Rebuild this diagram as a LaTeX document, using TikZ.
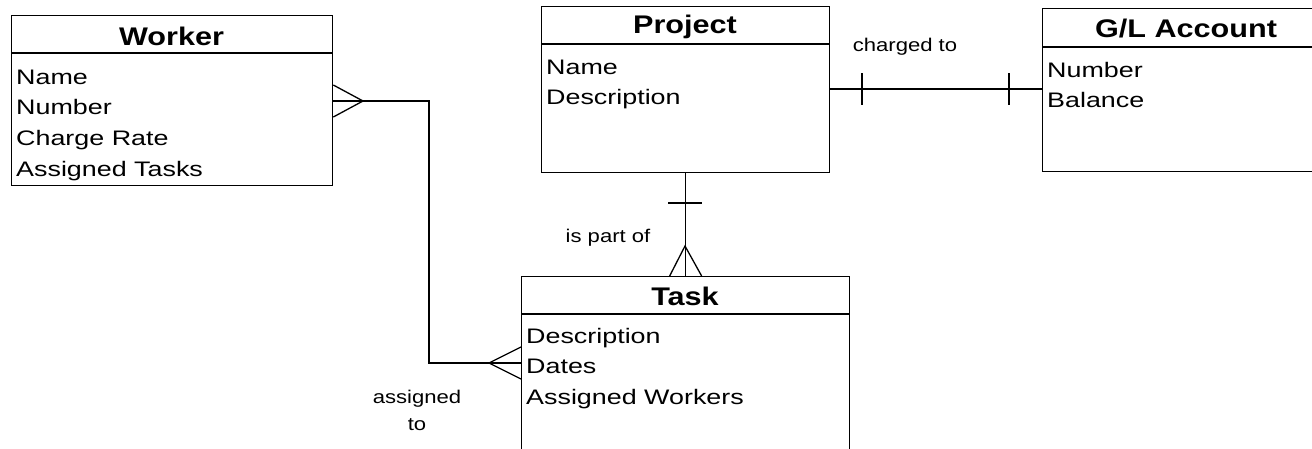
\documentclass[tikz,border=0pt]{standalone}
\usepackage{fontspec}
\usetikzlibrary{calc}
\newfontfamily\erfam[FakeStretch=1.2]{Liberation Sans}
\newfontfamily\erbodyfam[FakeStretch=1.28]{Liberation Sans}
\newcommand\erhead{\erfam\bfseries\fontsize{25.5}{30}\selectfont}
\newcommand\erbody{\erbodyfam\fontsize{21}{30.5}\selectfont}
\newcommand\erlbl{\erfam\fontsize{18.4}{27}\selectfont}
\tikzset{
  entity/.style={draw, line width=1.3pt, rectangle, anchor=north west, inner sep=0pt},
  head/.style={font=\erhead, anchor=base, inner sep=0pt},
  attr/.style={font=\erbody, anchor=base west, inner sep=0pt},
  lbl/.style={font=\erlbl, inner sep=0pt},
  conn/.style={line width=1.3pt},
}
\begin{document}
\begin{tikzpicture}[x=1pt,y=-1pt]
\useasboundingbox (0,0) rectangle (1312,448);
\clip (0,0) rectangle (1312,448);

% Worker
\node[entity, minimum width=321pt, minimum height=170pt] (worker) at (11,15) {};
\draw[conn] (worker.west |- 0,53) -- (worker.east |- 0,53);
\node[head] (workerh) at (171.5,45) {Worker};
\foreach \t [count=\i] in {Name,Number,Charge Rate,Assigned Tasks}
  \node[attr] (wa\i) at ({16},{84+30.7*(\i-1)}) {\t};

% Project
\node[entity, minimum width=288pt, minimum height=166pt] (project) at (541,6) {};
\draw[conn] (project.west |- 0,44) -- (project.east |- 0,44);
\node[head] (projecth) at (685,33) {Project};
\foreach \t [count=\i] in {Name,Description}
  \node[attr] (pa\i) at ({546},{74+30.5*(\i-1)}) {\t};

% G/L Account
\node[entity, minimum width=288pt, minimum height=163pt] (gl) at (1042,8) {};
\draw[conn] (gl.west |- 0,47) -- (gl.east |- 0,47);
\node[head] (glh) at (1186,37) {G/L Account};
\foreach \t [count=\i] in {Number,Balance}
  \node[attr] (ga\i) at ({1047},{77+30.5*(\i-1)}) {\t};

% Task
\node[entity, minimum width=328pt, minimum height=184pt] (task) at (521,276) {};
\draw[conn] (task.west |- 0,314) -- (task.east |- 0,314);
\node[head] (taskh) at (685,305) {Task};
\foreach \t [count=\i] in {Description,Dates,Assigned Workers}
  \node[attr] (ta\i) at ({526},{343+30.8*(\i-1)}) {\t};

% charged to (one to one)
\draw[conn] (project.east |- 0,89) -- (gl.west |- 0,89);
\coordinate (ct1) at (862,89);
\coordinate (ct2) at (1009,89);
\draw[conn] ([yshift=16pt]ct1) -- ([yshift=-16pt]ct1);
\draw[conn] ([yshift=16pt]ct2) -- ([yshift=-16pt]ct2);
\node[lbl, anchor=base] (chargedto) at (905,51) {charged to};

% is part of (one to many)
\draw[conn] (project.south) -- (task.north);
\coordinate (pt1) at (685,203);
\draw[conn] ([xshift=-17pt]pt1) -- ([xshift=17pt]pt1);
\coordinate (pf) at (685,246);
\draw[conn] ([xshift=-16pt]task.north) -- (pf) -- ([xshift=16pt]task.north);
\node[lbl, anchor=base] (ispartof) at (608,242) {is part of};

% assigned to (many to many)
\coordinate (wcf) at (363,101);
\coordinate (tcf) at (489,363);
\coordinate (bend) at (429,101);
\draw[conn] (worker.east |- wcf) -- (bend) |- (task.west |- tcf);
\draw[conn] ([yshift=16pt]worker.east |- wcf) -- (wcf) -- ([yshift=-16pt]worker.east |- wcf);
\draw[conn] ([yshift=16pt]task.west |- tcf) -- (tcf) -- ([yshift=-16pt]task.west |- tcf);
\node[lbl, align=center] (assignedto) at (417,410) {assigned\\to};
\end{tikzpicture}
\end{document}
